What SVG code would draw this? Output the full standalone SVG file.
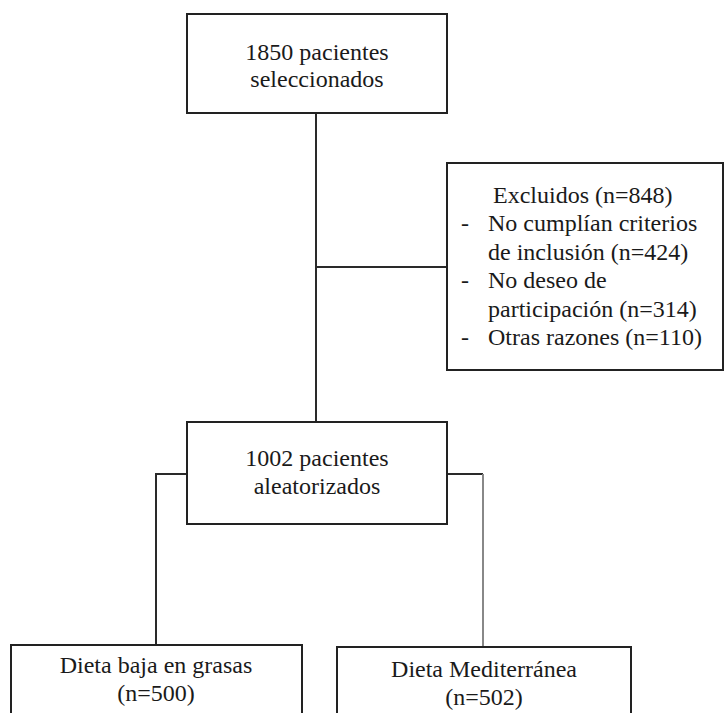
<svg xmlns="http://www.w3.org/2000/svg" width="728" height="713" viewBox="0 0 728 713">
<style>
.box{fill:#fff;stroke:#222;stroke-width:2}
.t{font-family:"Liberation Serif",Tinos,"Nimbus Roman","Times New Roman","DejaVu Serif",serif;font-size:24px;fill:#1a1a1a}
.c{text-anchor:middle}
.ln{fill:none;stroke:#2a2a2a;stroke-width:2}
.lg{fill:none;stroke:#888;stroke-width:2}
</style>
<rect width="728" height="713" fill="#fff"/>
<g id="connectors">
<line class="ln" x1="316" y1="113" x2="316" y2="422"/>
<line class="ln" x1="316" y1="267" x2="447" y2="267"/>
<polyline class="ln" points="187,474 156,474 156,645"/>
<polyline class="ln" points="447,474 483,474"/>
<line class="lg" x1="483" y1="474" x2="483" y2="647"/>
</g>
<g id="node-selected" class="t">
<rect class="box" x="187" y="14" width="260" height="99"/>
<text class="c" x="317" y="60">1850 pacientes</text>
<text class="c" x="317" y="87">seleccionados</text>
</g>
<g id="node-excluded" class="t">
<rect class="box" x="447" y="163" width="276" height="207"/>
<text x="493" y="203">Excluidos (n=848)</text>
<text x="461" y="231">-</text>
<text x="488" y="231">No cumplían criterios</text>
<text x="488" y="260">de inclusión (n=424)</text>
<text x="461" y="288">-</text>
<text x="488" y="288">No deseo de</text>
<text x="488" y="317">participación (n=314)</text>
<text x="461" y="345">-</text>
<text x="488" y="345">Otras razones (n=110)</text>
</g>
<g id="node-randomized" class="t">
<rect class="box" x="187" y="422" width="260" height="102"/>
<text class="c" x="317" y="466">1002 pacientes</text>
<text class="c" x="317" y="494">aleatorizados</text>
</g>
<g id="node-lowfat" class="t">
<rect class="box" x="11" y="645" width="291" height="90"/>
<text class="c" x="156" y="673">Dieta baja en grasas</text>
<text class="c" x="156" y="701">(n=500)</text>
</g>
<g id="node-mediterranean" class="t">
<rect class="box" x="337" y="647" width="294" height="90"/>
<text class="c" x="484" y="677">Dieta Mediterránea</text>
<text class="c" x="484" y="705">(n=502)</text>
</g>
</svg>
